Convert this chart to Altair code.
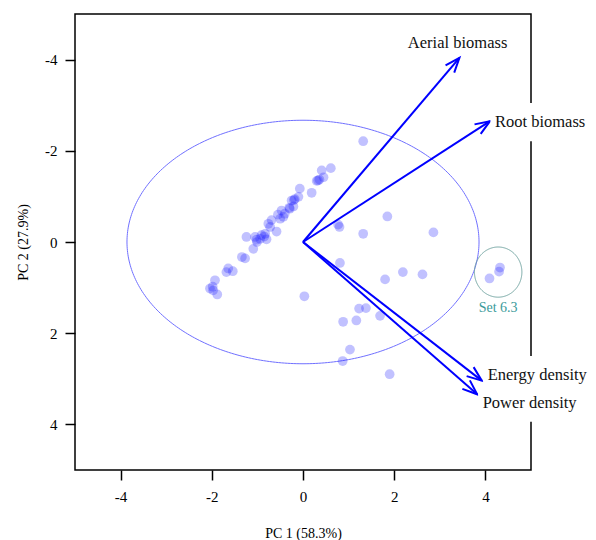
import altair as alt
import numpy as np
import pandas as pd

# Observation scores (PC1, PC2)
pc1 = [1.32, 0.61, 0.41, 0.45, 0.36, 0.30, 0.19, -0.07, -0.10, -0.18, -0.25, -0.21,
       -0.29, -0.47, -0.43, -0.50, -0.69, -0.76, -0.72, -0.58, -0.83, -0.91, -0.94,
       -1.05, -1.01, -1.24, -0.80, -1.09, -1.34, -1.27, -1.64, -1.68, -1.54, -1.93,
       -2.04, -1.97, -1.88, 0.77, 0.80, 1.32, 0.81, 0.03, 1.85, 2.86, 1.80, 2.19,
       2.62, 1.23, 1.38, 1.69, 0.88, 1.17, 1.03, 0.87, 1.90, 4.09, 4.32, 4.30,
       0.33, -0.30, -0.85, -1.02, -1.98, -0.20, -0.55, -0.40]
pc2 = [-2.21, -1.62, -1.57, -1.42, -1.37, -1.34, -1.08, -1.17, -0.99, -0.94, -0.91, -0.78,
       -0.73, -0.69, -0.55, -0.51, -0.48, -0.40, -0.33, -0.23, -0.18, -0.15, -0.07,
       -0.11, 0.00, -0.11, -0.06, 0.15, 0.33, 0.36, 0.58, 0.66, 0.64, 0.84,
       1.02, 1.06, 1.15, -0.38, -0.33, -0.18, 0.46, 1.19, -0.56, -0.21, 0.82, 0.66,
       0.71, 1.46, 1.45, 1.62, 1.75, 1.72, 2.36, 2.61, 2.90, 0.80, 0.56, 0.65,
       -1.35, -0.75, -0.12, -0.05, 0.98, -0.92, -0.60, -0.62]

# Loading vectors (arrow tips)
var_names = ["Aerial biomass", "Root biomass", "Energy density", "Power density"]
load_x = [3.43, 4.10, 3.92, 3.82]
load_y = [-4.04, -2.65, 3.04, 3.34]
# label anchors
lab_x = [3.39, 4.21, 4.05, 3.94]
lab_y = [-4.36, -2.63, 2.92, 3.52]
lab_align = ["center", "left", "left", "left"]
lab_width = [0.0, 2.2, 2.5, 2.4]   # approximate text widths (data units) for label backgrounds

# Confidence ellipse (centre, semi-axes)
ell_cx, ell_cy, ell_a, ell_b = 0.0, 0.0, 3.86, 2.67
# Set 6.3 highlight
set_cx, set_cy, set_rx, set_ry = 4.28, 0.66, 0.52, 0.55
set_label = "Set 6.3"
set_label_y = 1.45

ticks = [-4, -2, 0, 2, 4]
FONT = "Liberation Serif"

xs = alt.Scale(domain=[-5, 5], nice=False, zero=False)
ys = alt.Scale(domain=[-5, 5], nice=False, zero=False, reverse=True)

pts = pd.DataFrame({"x": pc1, "y": pc2})

t = np.linspace(0, 2 * np.pi, 361)
ell = pd.DataFrame({"x": ell_cx + ell_a * np.cos(t), "y": ell_cy + ell_b * np.sin(t), "o": np.arange(361)})
sell = pd.DataFrame({"x": set_cx + set_rx * np.cos(t), "y": set_cy + set_ry * np.sin(t), "o": np.arange(361)})

arr = pd.DataFrame({"name": var_names, "x0": 0.0, "y0": 0.0, "x": load_x, "y": load_y})
arr["angle"] = (np.degrees(np.arctan2(arr["x"], -arr["y"])) + 360) % 360

labs = pd.DataFrame({"name": var_names, "x": lab_x, "y": lab_y, "align": lab_align, "w": lab_width})
bg = labs[labs["w"] > 0].copy()
bg["x1"] = bg["x"] - 0.1
bg["x2"] = bg["x"] + bg["w"]
bg["y1"] = bg["y"] - 0.42
bg["y2"] = bg["y"] + 0.42

xenc = alt.X("x:Q", scale=xs, title="PC 1 (58.3%)",
             axis=alt.Axis(values=ticks, grid=False, domain=False, tickSize=10, tickWidth=1.5,
                           tickColor="black", labelPadding=9, titlePadding=22,
                           labelExpr="'' + datum.value"))
yenc = alt.Y("y:Q", scale=ys, title="PC 2 (27.9%)",
             axis=alt.Axis(values=ticks, grid=False, domain=False, tickSize=10, tickWidth=1.5,
                           tickColor="black", labelPadding=8, titlePadding=14,
                           labelExpr="'' + datum.value"))

ellipse = alt.Chart(ell).mark_line(color="#7070ff", strokeWidth=1, clip=False).encode(
    x=xenc, y=yenc, order="o:Q")

points = alt.Chart(pts).mark_circle(size=95, color="#2020ff", opacity=0.28).encode(
    x="x:Q", y="y:Q")

set_ell = alt.Chart(sell).mark_line(color="#6fa3a0", strokeWidth=1).encode(
    x="x:Q", y="y:Q", order="o:Q")

set_txt = alt.Chart(pd.DataFrame({"x": [set_cx], "y": [set_label_y], "t": [set_label]})).mark_text(
    font=FONT, fontSize=14, color="#3a9a9a").encode(x="x:Q", y="y:Q", text="t:N")

shafts = alt.Chart(arr).mark_rule(color="#0000ff", strokeWidth=2).encode(
    x="x0:Q", y="y0:Q", x2="x:Q", y2="y:Q")

heads = alt.Chart(arr).mark_point(
    shape="M -0.36 0.93 L 0 0 L 0.36 0.93", filled=False, size=1000,
    color="#0000ff", strokeWidth=2, opacity=1).encode(
    x="x:Q", y="y:Q", angle=alt.Angle("angle:Q", scale=None))

label_bg = alt.Chart(bg).mark_rect(color="white", clip=False).encode(
    x="x1:Q", x2="x2:Q", y="y1:Q", y2="y2:Q")

lab_left = alt.Chart(labs[labs["align"] == "left"]).mark_text(
    font=FONT, fontSize=16.5, align="left", baseline="middle", color="#111111").encode(
    x="x:Q", y="y:Q", text="name:N")
lab_center = alt.Chart(labs[labs["align"] == "center"]).mark_text(
    font=FONT, fontSize=16.5, align="center", baseline="middle", color="#111111").encode(
    x="x:Q", y="y:Q", text="name:N")

chart = alt.layer(ellipse, points, set_ell, set_txt, shafts, heads, label_bg, lab_left, lab_center).properties(
    width=456, height=456,
    autosize=alt.AutoSizeParams(type="none"),
    padding={"left": 67, "top": 6, "right": 57, "bottom": 70},
).configure_view(stroke="black", strokeWidth=1.5).configure_axis(
    labelFont=FONT, labelFontSize=15, labelColor="black",
    titleFont=FONT, titleFontSize=14, titleFontWeight="normal", titleColor="black",
)

chart.save("out.html", embed_options={"renderer": "svg", "actions": False})
